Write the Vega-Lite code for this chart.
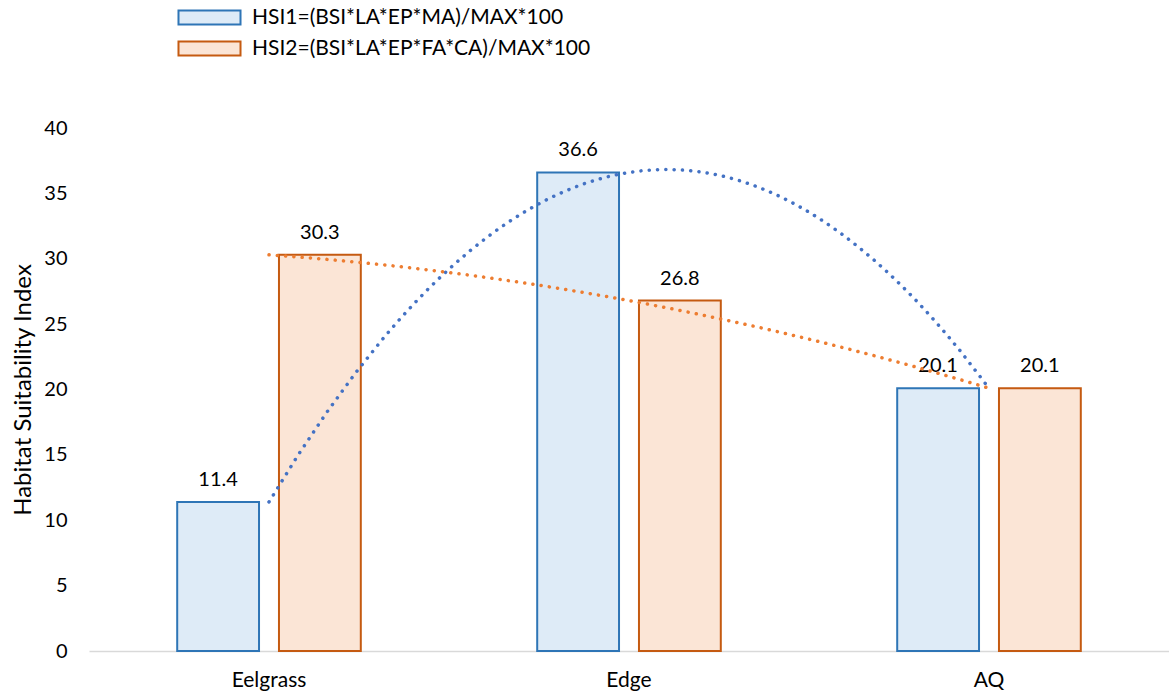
{
  "$schema": "https://vega.github.io/schema/vega-lite/v6.json",
  "width": 1080,
  "height": 523,
  "autosize": {"type": "none"},
  "padding": {"left": 89, "top": 128, "right": 0, "bottom": 47},
  "background": "white",
  "config": {
    "view": {"stroke": null},
    "font": "Lato",
    "axis": {"labelFont": "Lato", "titleFont": "Lato", "labelColor": "#000000", "titleColor": "#000000"},
    "legend": {"labelFont": "Lato"}
  },
  "data": {
    "values": [
      {"cat": "Eelgrass", "pos": 1, "series": "HSI1=(BSI*LA*EP*MA)/MAX*100", "v": 11.4},
      {"cat": "Eelgrass", "pos": 1, "series": "HSI2=(BSI*LA*EP*FA*CA)/MAX*100", "v": 30.3},
      {"cat": "Edge", "pos": 2, "series": "HSI1=(BSI*LA*EP*MA)/MAX*100", "v": 36.6},
      {"cat": "Edge", "pos": 2, "series": "HSI2=(BSI*LA*EP*FA*CA)/MAX*100", "v": 26.8},
      {"cat": "AQ", "pos": 3, "series": "HSI1=(BSI*LA*EP*MA)/MAX*100", "v": 20.1},
      {"cat": "AQ", "pos": 3, "series": "HSI2=(BSI*LA*EP*FA*CA)/MAX*100", "v": 20.1}
    ]
  },
  "layer": [
    {
      "layer": [
        {
          "mark": {"type": "bar", "strokeWidth": 2},
          "encoding": {
            "x": {
              "field": "cat", "type": "nominal", "sort": ["Eelgrass", "Edge", "AQ"],
              "scale": {"paddingInner": 0.49, "paddingOuter": 0.245},
              "axis": {"title": null, "labelAngle": 0, "labelFontSize": 21, "ticks": false, "domainColor": "#d9d9d9", "domainWidth": 1.5, "labelPadding": 18}
            },
            "xOffset": {"field": "series", "type": "nominal", "scale": {"paddingInner": 0.196, "paddingOuter": 0}},
            "y": {
              "field": "v", "type": "quantitative",
              "scale": {"domain": [0, 40]},
              "axis": {"title": "Habitat Suitability Index", "titleFontSize": 24, "titleFontWeight": "normal", "titlePadding": 8, "values": [0, 5, 10, 15, 20, 25, 30, 35, 40], "labelFontSize": 20, "grid": false, "domain": false, "ticks": false, "labelPadding": 22}
            },
            "fill": {
              "field": "series", "type": "nominal",
              "scale": {"range": ["#DEEBF7", "#FBE5D6"]},
              "legend": {"title": null, "orient": "none", "legendX": 110, "legendY": -121, "labelFontSize": 21, "labelLimit": 600, "symbolType": "M-4.43,-1H4.43V1H-4.43Z", "symbolSize": 196, "symbolStrokeWidth": 2, "labelOffset": 32, "rowPadding": 8}
            },
            "stroke": {
              "field": "series", "type": "nominal",
              "scale": {"range": ["#2E75B6", "#C55A11"]},
              "legend": {"title": null, "orient": "none", "legendX": 110, "legendY": -121, "labelFontSize": 21, "labelLimit": 600, "symbolType": "M-4.43,-1H4.43V1H-4.43Z", "symbolSize": 196, "symbolStrokeWidth": 2, "labelOffset": 32, "rowPadding": 8}
            }
          }
        },
        {
          "mark": {"type": "text", "baseline": "bottom", "dy": -12, "fontSize": 20, "color": "#000000"},
          "encoding": {
            "x": {"field": "cat", "type": "nominal", "sort": ["Eelgrass", "Edge", "AQ"]},
            "xOffset": {"field": "series", "type": "nominal"},
            "y": {"field": "v", "type": "quantitative"},
            "text": {"field": "v", "type": "quantitative", "format": ".1f"}
          }
        }
      ]
    },
    {
      "transform": [
        {"filter": "datum.series == 'HSI1=(BSI*LA*EP*MA)/MAX*100'"},
        {"regression": "v", "on": "pos", "method": "poly", "order": 2, "extent": [1, 3]}
      ],
      "mark": {"type": "line", "color": "#4472C4", "strokeWidth": 3.5, "strokeCap": "round", "strokeDash": [0.1, 8.2]},
      "encoding": {
        "x": {"field": "pos", "type": "quantitative", "scale": {"domain": [0.5, 3.5], "nice": false, "zero": false}, "axis": null},
        "y": {"field": "v", "type": "quantitative"}
      }
    },
    {
      "transform": [
        {"filter": "datum.series == 'HSI2=(BSI*LA*EP*FA*CA)/MAX*100'"},
        {"regression": "v", "on": "pos", "method": "poly", "order": 2, "extent": [1, 3]}
      ],
      "mark": {"type": "line", "color": "#ED7D31", "strokeWidth": 3.5, "strokeCap": "round", "strokeDash": [0.1, 8.2]},
      "encoding": {
        "x": {"field": "pos", "type": "quantitative", "scale": {"domain": [0.5, 3.5], "nice": false, "zero": false}, "axis": null},
        "y": {"field": "v", "type": "quantitative"}
      }
    }
  ],
  "resolve": {"scale": {"x": "independent"}, "axis": {"x": "independent"}}
}
